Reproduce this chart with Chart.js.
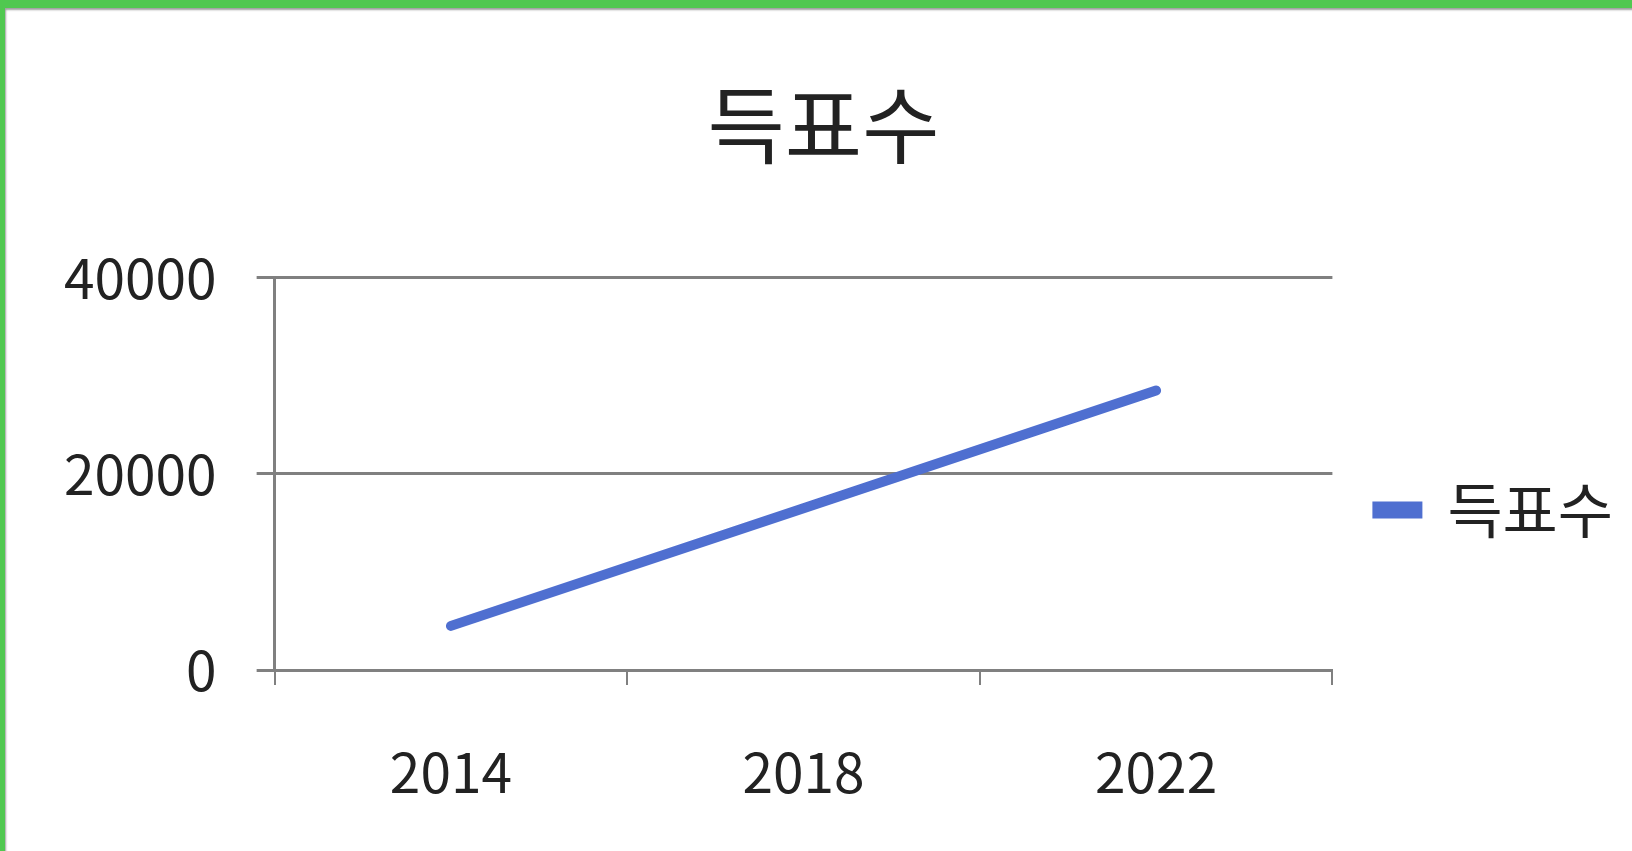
<!DOCTYPE html>
<html lang="ko">
<head>
<meta charset="utf-8">
<title>득표수</title>
<script src="https://cdn.jsdelivr.net/npm/chart.js@4.4.1/dist/chart.umd.min.js"></script>
<style>
  html, body { margin: 0; padding: 0; background: #fff; overflow: hidden; }
  .frame {
    position: absolute; left: 0; top: 0; width: 1627px; height: 843px;
    border-left: 5px solid #50c850; border-top: 8px solid #50c850;
    box-shadow: inset 2px 3px 2px -1px #a0a0a0;
  }
  .wrap { position: absolute; left: 5px; top: 8px; width: 1627px; height: 843px; }
</style>
</head>
<body>
<div class="frame"></div>
<div class="wrap"><canvas id="voteChart"></canvas></div>
<script>
// data
const years  = ['2014', '2018', '2022'];
const votes  = [4500, 16500, 28500];
const yTicks = [0, 20000, 40000];
const seriesName = '득표수';

const FONT  = "'Noto Sans CJK KR', 'Noto Sans', sans-serif";
const GRID  = '#808080';
const BLUE  = '#4f6fd0';

Chart.defaults.font.family = FONT;
Chart.defaults.color = '#222';

new Chart(document.getElementById('voteChart'), {
  type: 'line',
  data: {
    labels: years,
    datasets: [{
      label: seriesName,
      data: votes,
      borderColor: BLUE,
      backgroundColor: BLUE,
      borderWidth: 10,
      borderCapStyle: 'round',
      pointRadius: 0,
      tension: 0,
    }],
  },
  options: {
    responsive: true,
    maintainAspectRatio: false,
    animation: false,
    layout: { padding: { top: 67, left: 19, right: 9, bottom: -8 } },
    plugins: {
      title: {
        display: true,
        text: seriesName,
        font: { size: 84, weight: 'normal' },
        color: '#222',
        padding: { top: 0, bottom: 102 },
      },
      legend: {
        position: 'right',
        // empty title only pushes the legend item down a bit
        title: { display: true, text: '', font: { size: 43, lineHeight: 2 }, padding: 0 },
        labels: {
          boxWidth: 40,
          boxHeight: 7,
          padding: 45,
          font: { size: 60 },
          color: '#222',
        },
      },
      tooltip: { enabled: false },
    },
    scales: {
      x: {
        offset: true,
        grid: {
          offset: true,
          drawOnChartArea: false,
          drawTicks: true,
          tickLength: 15,
          color: GRID,
          lineWidth: 2,
        },
        border: { color: GRID, width: 3 },
        ticks: { padding: 54, font: { size: 55 }, color: '#222' },
      },
      y: {
        min: yTicks[0],
        max: yTicks[yTicks.length - 1],
        afterBuildTicks: axis => { axis.ticks = yTicks.map(v => ({ value: v })); },
        grid: { color: GRID, lineWidth: 3, tickLength: 18 },
        border: { color: GRID, width: 3 },
        ticks: { padding: 40, font: { size: 55 }, color: '#222', callback: v => String(v) },
      },
    },
  },
});
</script>
</body>
</html>
